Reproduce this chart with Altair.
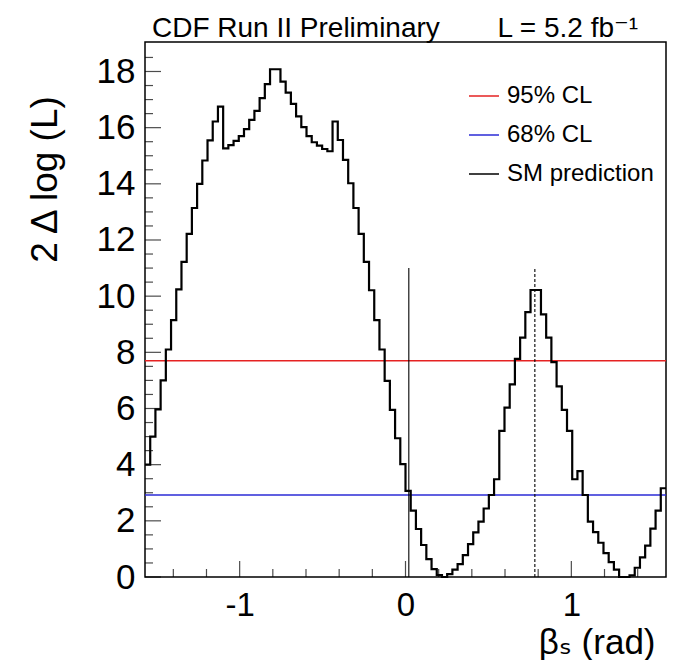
import numpy as np
import pandas as pd
import altair as alt

FONT = "Liberation Sans, Helvetica, Arial, DejaVu Sans"

# ---------------- data ----------------
x_min, x_max = -np.pi / 2, np.pi / 2      # beta_s range (rad)
y_max = 19.05
n_bins = 100

# 2 Delta log(L) per bin, left to right
scan = [
    4.00, 5.00, 5.97, 7.00, 8.10, 9.15, 10.24, 11.22, 12.22, 13.14,
    14.00, 14.83, 15.55, 16.22, 16.75, 15.26, 15.38, 15.53, 15.70, 15.95,
    16.28, 16.60, 17.05, 17.55, 18.08, 18.08, 17.64, 17.25, 16.85, 16.40,
    16.02, 15.70, 15.48, 15.36, 15.24, 15.16, 16.22, 15.56, 14.85, 14.02,
    13.14, 12.22, 11.22, 10.21, 9.15, 8.10, 6.98, 5.95, 4.94, 4.02,
    3.07, 2.36, 1.71, 1.14, 0.64, 0.28, 0.07, 0.00, 0.10, 0.26,
    0.46, 0.78, 1.17, 1.59, 1.97, 2.44, 2.92, 3.48, 5.20, 6.03,
    6.86, 7.77, 8.52, 9.43, 10.22, 10.22, 9.35, 8.52, 7.65, 6.79,
    5.95, 5.20, 3.48, 3.77, 2.92, 1.97, 1.60, 1.22, 0.85, 0.53,
    0.26, 0.00, 0.00, 0.06, 0.33, 0.70, 1.12, 1.72, 2.36, 3.16,
]

cl_labels = ["95% CL", "68% CL"]
cl_levels = [7.70, 2.92]
sm_label = "SM prediction"
sm_beta = 0.02
marker_top = 11.0
peak_beta = 0.78

legend_order = ["95% CL", "68% CL", "SM prediction"]
legend_colors = ["#e52222", "#2b2bd6", "black"]

header_left = "CDF Run II Preliminary"
header_right = "L = 5.2 fb⁻¹"
header_right_at = 0.555

y_major = [0, 2, 4, 6, 8, 10, 12, 14, 16, 18]
y_minor = [v / 2 for v in range(0, 38) if v % 4 != 0]
x_major = [-1, 0, 1]
x_minor = [-1.4, -1.2, -0.8, -0.6, -0.4, -0.2, 0.2, 0.4, 0.6, 0.8, 1.2, 1.4]

# ---------------- tables ----------------
edges = np.linspace(x_min, x_max, n_bins + 1)
hist = pd.DataFrame({"beta": edges, "v": scan + [scan[-1]]})
cl_df = pd.DataFrame({"label": cl_labels, "level": cl_levels})
sm_df = pd.DataFrame({"label": [sm_label], "beta": [sm_beta], "y0": [0.0], "y1": [marker_top]})
pk_df = pd.DataFrame({"beta": [peak_beta], "y0": [0.0], "y1": [marker_top]})
ymaj_df = pd.DataFrame({"t": y_major})
ymin_df = pd.DataFrame({"t": y_minor})
xmaj_df = pd.DataFrame({"t": x_major})
xmin_df = pd.DataFrame({"t": x_minor})

xs = alt.Scale(domain=[x_min, x_max], nice=False, zero=False)
ys = alt.Scale(domain=[0, y_max], nice=False)

x_axis = alt.Axis(
    values=x_major, labelExpr="toString(datum.value)", labelFontSize=33, labelFont=FONT,
    labelColor="black", labelPadding=12, labelBaseline="top", ticks=False, domain=False,
    grid=False, title="βₛ (rad)", titleFontSize=35, titleFont=FONT, titleFontWeight="normal",
    titleColor="black", titleX=510, titleY=76, titleAlign="right", titleBaseline="alphabetic",
)
y_axis = alt.Axis(
    values=y_major, labelExpr="toString(datum.value)", labelFontSize=35, labelFont=FONT,
    labelColor="black", labelPadding=10, ticks=False, domain=False, grid=False,
    title="2 Δ log (L)", titleFontSize=37, titleFont=FONT, titleFontWeight="normal",
    titleColor="black", titleAngle=270, titleX=-100, titleY=137, titleAlign="center",
    titleBaseline="middle",
)

color = alt.Color(
    "label:N",
    scale=alt.Scale(domain=legend_order, range=legend_colors),
    legend=alt.Legend(
        title=None, orient="none", legendX=323, legendY=38, symbolType="stroke",
        symbolSize=900, symbolStrokeWidth=1.5, labelFontSize=24, labelFont=FONT,
        labelColor="black", labelOffset=7, rowPadding=11, padding=0,
    ),
)

curve = alt.Chart(hist).mark_line(interpolate="step-after", color="black", strokeWidth=2.2).encode(
    x=alt.X("beta:Q", scale=xs, axis=x_axis),
    y=alt.Y("v:Q", scale=ys, axis=y_axis),
)

cl_rules = alt.Chart(cl_df).mark_rule(strokeWidth=1.3).encode(
    y=alt.Y("level:Q", scale=ys), color=color
)

sm_rule = alt.Chart(sm_df).mark_rule(strokeWidth=1.1).encode(
    x=alt.X("beta:Q", scale=xs), y=alt.Y("y0:Q", scale=ys), y2="y1:Q", color=color
)

pk_rule = alt.Chart(pk_df).mark_rule(strokeWidth=1.1, color="black", strokeDash=[3, 2]).encode(
    x=alt.X("beta:Q", scale=xs), y=alt.Y("y0:Q", scale=ys), y2="y1:Q"
)

ytick_major = alt.Chart(ymaj_df).mark_tick(orient="horizontal", size=16, thickness=1.2, xOffset=8, color="black").encode(
    x=alt.datum(x_min, scale=xs), y=alt.Y("t:Q", scale=ys)
)
ytick_minor = alt.Chart(ymin_df).mark_tick(orient="horizontal", size=8, thickness=1.2, xOffset=4, color="black").encode(
    x=alt.datum(x_min, scale=xs), y=alt.Y("t:Q", scale=ys)
)
xtick_major = alt.Chart(xmaj_df).mark_tick(orient="vertical", size=16, thickness=1.2, yOffset=-8, color="black").encode(
    x=alt.X("t:Q", scale=xs), y=alt.datum(0, scale=ys)
)
xtick_minor = alt.Chart(xmin_df).mark_tick(orient="vertical", size=8, thickness=1.2, yOffset=-4, color="black").encode(
    x=alt.X("t:Q", scale=xs), y=alt.datum(0, scale=ys)
)

head_l = alt.Chart(pd.DataFrame({"txt": [header_left]})).mark_text(
    align="left", baseline="alphabetic", fontSize=28, font=FONT, color="black", dy=-5, dx=7
).encode(x=alt.datum(x_min, scale=xs), y=alt.datum(y_max, scale=ys), text="txt:N")

head_r = alt.Chart(pd.DataFrame({"txt": [header_right]})).mark_text(
    align="left", baseline="alphabetic", fontSize=28, font=FONT, color="black", dy=-5
).encode(x=alt.datum(header_right_at, scale=xs), y=alt.datum(y_max, scale=ys), text="txt:N")

chart = alt.layer(
    cl_rules, sm_rule, pk_rule, curve, ytick_major, ytick_minor, xtick_major, xtick_minor,
    head_l, head_r,
).properties(
    width=521, height=535,
    autosize=alt.AutoSizeParams(type="none"),
    padding={"left": 145, "top": 42, "right": 7, "bottom": 83},
    background="white",
).configure_view(stroke="black", strokeWidth=1.5)

chart.save("out.html", embed_options={"renderer": "svg", "actions": False})
